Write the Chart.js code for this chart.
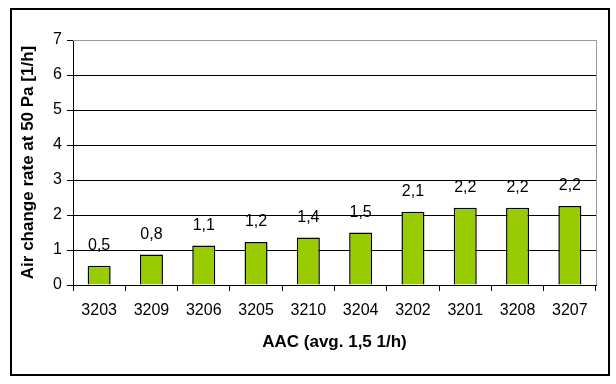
<!DOCTYPE html>
<html>
<head>
<meta charset="utf-8">
<script src="https://cdn.jsdelivr.net/npm/chart.js@4"></script>
<style>
  html, body { margin: 0; padding: 0; background: #fff; }
  #wrap { width: 616px; height: 384px; }
</style>
</head>
<body>
<div id="wrap"><canvas id="chart" width="616" height="384"></canvas></div>
<script>
const rooms = ['3203', '3209', '3206', '3205', '3210', '3204', '3202', '3201', '3208', '3207'];
const airChange = [0.55, 0.87, 1.13, 1.23, 1.36, 1.5, 2.09, 2.21, 2.21, 2.26];
const valueLabels = ['0,5', '0,8', '1,1', '1,2', '1,4', '1,5', '2,1', '2,2', '2,2', '2,2'];
const yTicks = [0, 1, 2, 3, 4, 5, 6, 7];

const FONT = '"Liberation Sans", Arial, sans-serif';

// frame around the whole picture + gray right/top plot border
const framePlugin = {
  id: 'frame',
  beforeDraw(chart) {
    const ctx = chart.ctx;
    ctx.save();
    ctx.fillStyle = '#fff';
    ctx.fillRect(0, 0, chart.width, chart.height);
    ctx.restore();
  },
  afterDraw(chart) {
    const ctx = chart.ctx;
    const a = chart.chartArea;
    ctx.save();
    ctx.strokeStyle = '#999';
    ctx.lineWidth = 1;
    ctx.beginPath();
    ctx.moveTo(a.left, a.top + 0.5);
    ctx.lineTo(a.right + 0.5, a.top + 0.5);
    ctx.lineTo(a.right + 0.5, a.bottom);
    ctx.stroke();
    ctx.strokeStyle = '#000';
    ctx.lineWidth = 2;
    ctx.strokeRect(11, 9, 598, 366);
    ctx.restore();
  }
};

// value labels above the bars
const barLabelPlugin = {
  id: 'barLabels',
  afterDatasetsDraw(chart) {
    const ctx = chart.ctx;
    const meta = chart.getDatasetMeta(0);
    ctx.save();
    ctx.font = '16px ' + FONT;
    ctx.fillStyle = '#000';
    ctx.textAlign = 'center';
    ctx.textBaseline = 'middle';
    meta.data.forEach((bar, i) => {
      ctx.fillText(valueLabels[i], bar.x, bar.y - 20);
    });
    ctx.restore();
  }
};

new Chart(document.getElementById('chart'), {
  type: 'bar',
  data: {
    labels: rooms,
    datasets: [{
      data: airChange,
      backgroundColor: '#99cc00',
      borderColor: '#000',
      borderWidth: 1.5,
      barPercentage: 0.44,
      categoryPercentage: 1
    }]
  },
  options: {
    responsive: false,
    animation: false,
    layout: { padding: { left: 0, right: 20, top: 40, bottom: 0 } },
    plugins: {
      legend: { display: false },
      tooltip: { enabled: false }
    },
    scales: {
      x: {
        afterFit(scale) { scale.height = 99; },
        grid: {
          offset: true,
          drawOnChartArea: false,
          drawTicks: true,
          tickLength: 6,
          color: '#000'
        },
        border: { color: '#000', width: 1 },
        ticks: {
          color: '#000',
          font: { family: FONT, size: 16 },
          padding: 10,
          maxRotation: 0
        },
        title: {
          display: true,
          text: 'AAC (avg. 1,5 1/h)',
          color: '#000',
          font: { family: FONT, size: 17, weight: 'bold' },
          padding: { top: 0, bottom: 31 }
        }
      },
      y: {
        min: 0,
        max: 7,
        afterFit(scale) { scale.width = 73; },
        afterBuildTicks(scale) { scale.ticks = yTicks.map(v => ({ value: v })); },
        grid: {
          color: ctx => ctx.tick && ctx.tick.value === 7 ? '#999' : '#000',
          tickColor: '#000',
          tickLength: 6
        },
        border: { color: '#000', width: 1 },
        ticks: {
          color: '#000',
          font: { family: FONT, size: 16 },
          padding: 5
        },
        title: {
          display: true,
          text: 'Air change rate at 50 Pa [1/h]',
          color: '#000',
          font: { family: FONT, size: 17, weight: 'bold' },
          padding: { top: 18, bottom: 0 }
        }
      }
    }
  },
  plugins: [framePlugin, barLabelPlugin]
});
</script>
</body>
</html>
